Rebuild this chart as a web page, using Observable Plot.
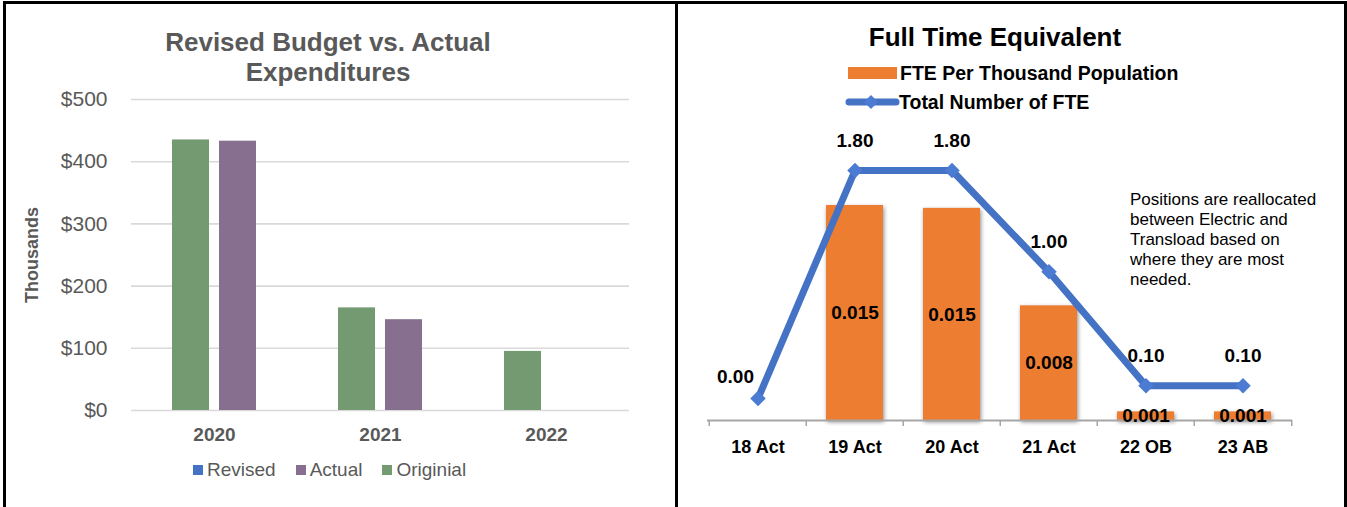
<!DOCTYPE html>
<html>
<head>
<meta charset="utf-8">
<script src="https://cdn.jsdelivr.net/npm/d3@7"></script>
<script src="https://cdn.jsdelivr.net/npm/@observablehq/plot@0.6"></script>
<style>
html, body { margin: 0; padding: 0; background: #fff; }
#root { position: relative; width: 1347px; height: 507px; overflow: hidden; font-family: "Liberation Sans", Arial, sans-serif; background: #fff; }
.abs { position: absolute; }
.border { position: absolute; background: #000; }
.ltitle { position: absolute; left: 6px; width: 644px; top: 27px; text-align: center; font-size: 26px; line-height: 30px; font-weight: bold; color: #595959; }
.rtitle { position: absolute; left: 678px; width: 634px; top: 22px; text-align: center; font-size: 26px; line-height: 30px; font-weight: bold; color: #000; }
.thousands { position: absolute; left: 32px; top: 255px; transform: translate(-50%, -50%) rotate(-90deg); font-size: 18px; font-weight: bold; color: #595959; white-space: nowrap; }
.lleg { position: absolute; left: 193px; top: 459px; display: flex; align-items: center; font-size: 19px; color: #595959; }
.lleg .item { display: flex; align-items: center; margin-right: 20px; }
.lleg .sw { width: 10px; height: 10px; margin-right: 4px; }
.rleg { position: absolute; font-size: 19.5px; font-weight: bold; color: #000; white-space: nowrap; line-height: 20px; }
.note { position: absolute; left: 1130px; top: 190px; font-size: 17px; line-height: 20px; color: #000; white-space: nowrap; }
.leftc g[aria-label="fx-axis tick label"] text { font-weight: bold; }
.rightc g[aria-label="x-axis tick label"] text { font-weight: bold; }
.rightc g[aria-label="bar"] { filter: drop-shadow(1px 2px 2px rgba(0,0,0,0.45)); }
svg { overflow: visible; }
</style>
</head>
<body>
<div id="root"></div>
<script>
// ---------- Left chart data ----------
const years = ["2020", "2021", "2022"];
const revisedK = [null, null, null];
const actualK = [433, 146, null];
const originalK = [435, 165, 95];
const budgetSeries = ["Revised", "Actual", "Originial"];
const budgetColors = ["#4472C4", "#87708F", "#739A70"];
const budgetBarOrder = ["Originial", "Actual"];
const budgetTicks = [0, 100, 200, 300, 400, 500];
const budgetTitle = ["Revised Budget vs. Actual", "Expenditures"];
const budgetAxisLabel = "Thousands";

// ---------- Right chart data ----------
const fteCats = ["18 Act", "19 Act", "20 Act", "21 Act", "22 OB", "23 AB"];
const ftePerThousand = [null, 0.0150, 0.0148, 0.0080, 0.0006, 0.0006];
const fteTotal = [0.00, 1.80, 1.80, 1.00, 0.10, 0.10];
const fteSeries = ["FTE Per Thousand Population", "Total Number of FTE"];
const fteColors = ["#ED7D31", "#4472C4"];
const fteTitle = "Full Time Equivalent";
const noteLines = ["Positions are reallocated", "between Electric and", "Transload based on", "where they are most", "needed."];

const root = document.getElementById("root");
const font = "Liberation Sans, Arial, sans-serif";

// borders
[[3, 1, 1344, 3], [3, 1, 3, 506], [675, 1, 3, 506], [1344, 1, 3, 506]].forEach(([l, t, w, h]) => {
  const b = document.createElement("div");
  b.className = "border";
  Object.assign(b.style, {left: l + "px", top: t + "px", width: w + "px", height: h + "px"});
  root.appendChild(b);
});

// ---------- Left chart ----------
const lt = document.createElement("div");
lt.className = "ltitle";
lt.innerHTML = budgetTitle.join("<br>");
root.appendChild(lt);

const th = document.createElement("div");
th.className = "thousands";
th.textContent = budgetAxisLabel;
root.appendChild(th);

const budgetRows = [];
years.forEach((yr, i) => {
  [["Revised", revisedK[i]], ["Originial", originalK[i]], ["Actual", actualK[i]]].forEach(([s, v]) => {
    if (v != null) budgetRows.push({year: yr, series: s, value: v});
  });
});

const leftPlot = Plot.plot({
  width: 668, height: 357,
  marginTop: 11, marginBottom: 35, marginLeft: 125, marginRight: 45,
  style: {background: "transparent", color: "#595959", fontFamily: font, overflow: "visible"},
  fx: {domain: years, padding: 0, label: null},
  x: {domain: budgetBarOrder, paddingInner: 0.213, paddingOuter: 0.872, axis: null},
  y: {domain: [0, 500], axis: null},
  color: {domain: budgetSeries, range: budgetColors},
  marks: [
    Plot.ruleY(budgetTicks, {stroke: "#D9D9D9", strokeWidth: 1.6}),
    Plot.barY(budgetRows, {fx: "year", x: "series", y: "value", fill: "series"}),
    Plot.axisY(budgetTicks, {tickSize: 0, tickPadding: 24, tickFormat: d => "$" + d, fontSize: 21, label: null}),
    Plot.axisFx({anchor: "bottom", tickSize: 0, tickPadding: 17, fontSize: 19, label: null})
  ]
});
const lwrap = document.createElement("div");
lwrap.className = "abs leftc";
Object.assign(lwrap.style, {left: "6px", top: "88px"});
lwrap.appendChild(leftPlot);
root.appendChild(lwrap);

const lleg = document.createElement("div");
lleg.className = "lleg";
budgetSeries.forEach((s, i) => {
  const it = document.createElement("div");
  it.className = "item";
  const sw = document.createElement("div");
  sw.className = "sw";
  sw.style.background = budgetColors[i];
  const tx = document.createElement("span");
  tx.textContent = s;
  it.appendChild(sw); it.appendChild(tx);
  lleg.appendChild(it);
});
root.appendChild(lleg);

// ---------- Right chart ----------
const rt = document.createElement("div");
rt.className = "rtitle";
rt.textContent = fteTitle;
root.appendChild(rt);

// legend
const barSw = document.createElement("div");
barSw.className = "abs";
Object.assign(barSw.style, {left: "848px", top: "67px", width: "49px", height: "12px", background: fteColors[0]});
root.appendChild(barSw);
const barTx = document.createElement("div");
barTx.className = "rleg";
Object.assign(barTx.style, {left: "900px", top: "63px"});
barTx.textContent = fteSeries[0];
root.appendChild(barTx);

const lineSw = document.createElementNS("http://www.w3.org/2000/svg", "svg");
lineSw.setAttribute("width", "60"); lineSw.setAttribute("height", "20");
Object.assign(lineSw.style, {position: "absolute", left: "842px", top: "92px"});
lineSw.innerHTML = `<line x1="7" y1="10" x2="54" y2="10" stroke="${fteColors[1]}" stroke-width="7" stroke-linecap="round"/>
<path d="M29,3 L36,10 L29,17 L22,10 Z" fill="#4B7BD2"/>`;
root.appendChild(lineSw);
const lineTx = document.createElement("div");
lineTx.className = "rleg";
Object.assign(lineTx.style, {left: "899px", top: "92px"});
lineTx.textContent = fteSeries[1];
root.appendChild(lineTx);

const note = document.createElement("div");
note.className = "note";
note.innerHTML = noteLines.join("<br>");
root.appendChild(note);

const barRows = fteCats.map((c, i) => ({cat: c, value: ftePerThousand[i]})).filter(d => d.value != null);
const lineRows = fteCats.map((c, i) => ({cat: c, value: fteTotal[i]}));

const W = 668, H = 340, mT = 12, mB = 40, mL = 29, mR = 54;
const bw = (W - mL - mR) / fteCats.length;
const barDomain = [0, 0.020093];
const lineDomain = [-0.1737, 2.1];
const tickLen = 6 * (barDomain[1] - barDomain[0]) / (H - mT - mB);

const rightBars = Plot.plot({
  width: W, height: H, marginTop: mT, marginBottom: mB, marginLeft: mL, marginRight: mR,
  style: {background: "transparent", color: "#000", fontFamily: font, overflow: "visible"},
  x: {type: "band", domain: fteCats, padding: 0, axis: null},
  y: {domain: barDomain, axis: null},
  marks: [
    Plot.barY(barRows, {x: "cat", y: "value", fill: fteColors[0], insetLeft: 20, insetRight: 20}),
    Plot.ruleY([0], {stroke: "#A6A6A6", strokeWidth: 2}),
    Plot.ruleX(fteCats, {x: d => d, y1: () => 0, y2: () => -tickLen, dx: -bw / 2, stroke: "#A6A6A6", strokeWidth: 1.5}),
    Plot.ruleX(fteCats.slice(-1), {x: d => d, y1: () => 0, y2: () => -tickLen, dx: bw / 2, stroke: "#A6A6A6", strokeWidth: 1.5}),
    Plot.text(barRows, {x: "cat", y: d => d.value / 2, text: d => d3.format(".3f")(d.value), fontSize: 19, fontWeight: "bold", fill: "#000"}),
    Plot.axisX({anchor: "bottom", tickSize: 0, tickPadding: 20, fontSize: 18, label: null})
  ]
});
const rwrap = document.createElement("div");
rwrap.className = "abs rightc";
Object.assign(rwrap.style, {left: "678px", top: "120px"});
rwrap.appendChild(rightBars);
root.appendChild(rwrap);

const rightLine = Plot.plot({
  width: W, height: H, marginTop: mT, marginBottom: mB, marginLeft: mL, marginRight: mR,
  style: {background: "transparent", color: "#000", fontFamily: font, overflow: "visible"},
  x: {type: "band", domain: fteCats, padding: 0, axis: null},
  y: {domain: lineDomain, axis: null},
  marks: [
    Plot.line(lineRows, {x: "cat", y: "value", stroke: fteColors[1], strokeWidth: 7, strokeLinejoin: "round"}),
    Plot.dot(lineRows, {x: "cat", y: "value", symbol: "diamond2", r: 7, fill: "#4B7BD2", stroke: "none"}),
    Plot.text(lineRows, {filter: (d, i) => i > 0, x: "cat", y: "value", text: d => d3.format(".2f")(d.value), dy: -30, fontSize: 19, fontWeight: "bold", fill: "#000"}),
    Plot.text(lineRows, {filter: (d, i) => i === 0, x: "cat", y: "value", text: d => d3.format(".2f")(d.value), dx: -4, dy: -22, textAnchor: "end", fontSize: 19, fontWeight: "bold", fill: "#000"})
  ]
});
const rwrap2 = document.createElement("div");
rwrap2.className = "abs";
Object.assign(rwrap2.style, {left: "678px", top: "120px"});
rwrap2.appendChild(rightLine);
root.appendChild(rwrap2);
</script>
</body>
</html>
